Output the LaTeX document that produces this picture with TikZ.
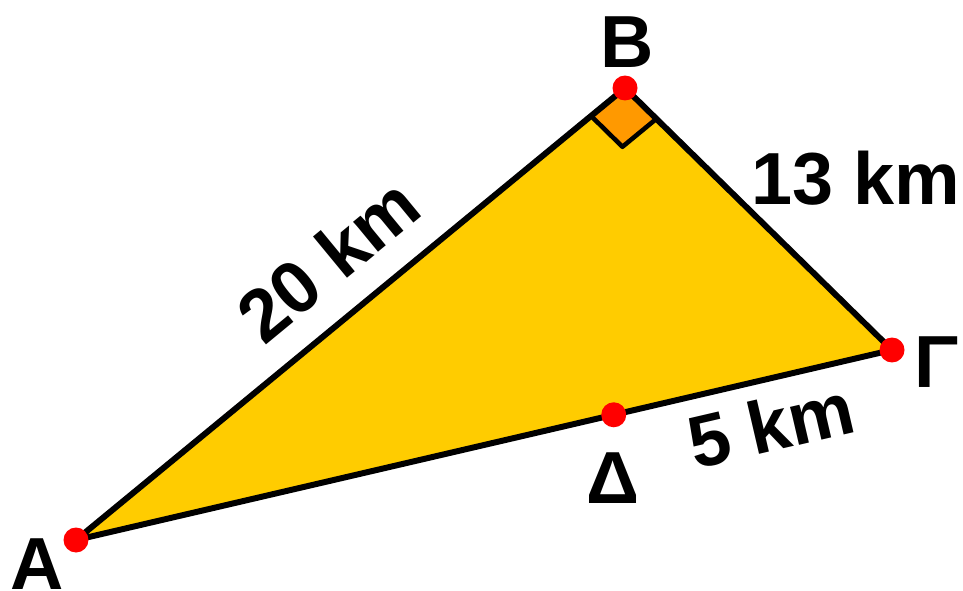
\documentclass[tikz,border=0pt]{standalone}
\usepackage{fontspec}
\setmainfont{Liberation Sans}
\usetikzlibrary{calc, positioning}
\definecolor{triyellow}{HTML}{FFCC00}
\definecolor{rightorange}{HTML}{FF9900}

\begin{document}
\begin{tikzpicture}[x=0.02cm,y=-0.02cm,line join=round,
    vertex/.style={circle,fill=red,inner sep=0pt,minimum size=0.5cm},
    lbl/.style={font=\fontsize{42}{46}\selectfont\bfseries,inner sep=0pt}]
    \useasboundingbox (0,0) rectangle (963,591);
    \coordinate (A) at (76,540);
    \coordinate (B) at (625,88);
    \coordinate (G) at (892,350);
    \coordinate (D) at ($(A)!0.659!(G)$);
    % right angle at B
    \coordinate (p1) at ($(B)!0.88cm!(A)$);
    \coordinate (p2) at ($(B)!0.88cm!(G)$);
    \coordinate (p3) at ($(p1)+(p2)-(B)$);
    \fill[triyellow] (A) -- (B) -- (G) -- cycle;
    \filldraw[fill=rightorange,line width=2.6pt] (p1) -- (B) -- (p2) -- (p3) -- cycle;
    \draw[line width=3.4pt] (A) -- (B) -- (G) -- cycle;
    \node[vertex] (a) at (A) {};
    \node[vertex] (b) at (B) {};
    \node[vertex] (g) at (G) {};
    \node[vertex] (d) at (D) {};
    \node[lbl] (la) at (37,564) {A};
    \node[lbl] (lb) at (627,42) {B};
    \node[lbl] (lg) at (937,362) {Γ};
    \node[lbl] (ld) at (613,478) {Δ};
    \node[lbl,rotate=39.5] (lab) at (328,260) {20 km};
    \node[lbl] (lbg) at (856,178) {13 km};
    \node[lbl,rotate=13.1] (ldg) at (771,425) {5 km};
  \end{tikzpicture}
\end{document}
